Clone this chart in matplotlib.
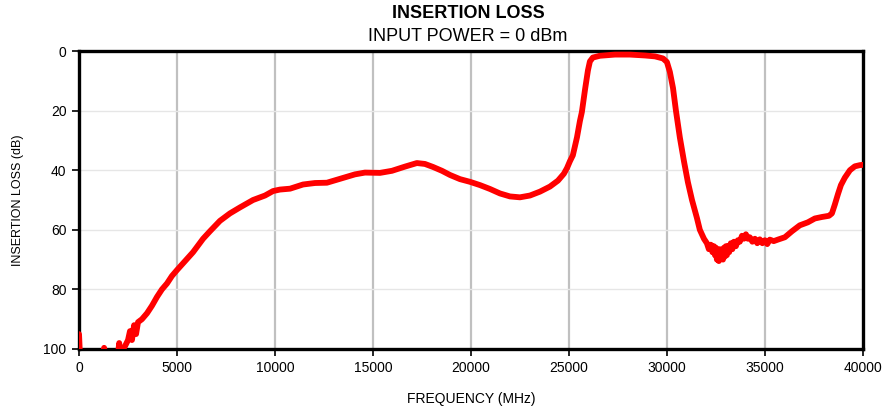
import matplotlib
matplotlib.use("Agg")
import matplotlib.pyplot as plt  # type: ignore
import numpy as np

# frequency in MHz, insertion loss in dB (values > 100 fall off the chart)
freq_mhz = [
    0, 40, 1250, 1280, 1320, 2000, 2050, 2100,
    2190, 2350, 2500, 2600, 2700, 2810, 2910, 3010, 3210, 3470, 3720,
    3980, 4230, 4490, 4740, 5000, 5410, 5820, 6330, 6680, 7190, 7700,
    8210, 8880, 9490, 9900, 10250, 10770, 11430, 12040, 12650, 13470,
    14080, 14590, 15360, 15970, 16630, 17240, 17650, 18060, 18520, 18930,
    19440, 19950, 20460, 20970, 21480, 21990, 22500, 23010, 23520, 24030,
    24440, 24740, 24900, 25050, 25200, 25410, 25560, 25660, 25820, 25970,
    26070, 26220, 26580, 27350, 28110, 28880, 29390, 29800, 30000, 30150,
    30310, 30460, 30660, 30870, 31070, 31280, 31530, 31680, 31890, 32040,
    32140, 32240, 32320, 32400, 32450, 32500, 32550, 32600, 32650, 32700,
    32750, 32810, 32860, 32910, 32960, 33010, 33060, 33110, 33180, 33260,
    33340, 33420, 33520, 33620, 33720, 33830, 33930, 34030, 34130, 34230,
    34360, 34490, 34610, 34740, 34870, 35000, 35120, 35250, 35450, 35660,
    36020, 36380, 36780, 37190, 37550, 37910, 38270, 38420, 38570, 38730,
    38880, 39080, 39340, 39590, 39850, 40000,
]
loss_db = [
    95, 101, 101, 99.6, 101, 101, 98, 101,
    100.5, 99, 97, 94, 97, 92, 95, 91, 90, 88, 85.5,
    82.5, 80, 78, 75.5, 73.5, 70.5, 67.5, 63, 60.5, 57, 54.5,
    52.5, 50, 48.5, 47, 46.5, 46.2, 44.8, 44.3, 44.2, 42.6,
    41.4, 40.8, 40.9, 40.2, 38.8, 37.6, 37.9, 38.9, 40.2, 41.6,
    43.0, 43.9, 45, 46.3, 47.8, 48.8, 49.1, 48.5, 47.2, 45.5,
    43.5, 41.2, 39.3, 37, 35, 29, 23.5, 20.5, 13, 6.5,
    3.5, 2.2, 1.6, 1.2, 1.2, 1.5, 1.8, 2.5, 3.7, 7,
    12.4, 20, 29, 37, 44, 50, 56, 60, 63, 64.5,
    66.5, 65, 67.5, 65.5, 68.5, 66, 70, 67, 70.5, 66.5,
    69.5, 67, 70, 66, 69, 65.5, 68.5, 65.5, 67.5, 64.5,
    66.5, 64, 65.5, 63.5, 64, 62, 63, 61.5, 63, 62.5,
    64, 63, 64.5, 63.2, 64.5, 63.5, 64.8, 63.3, 63.8, 63.3,
    62.5, 60.5, 58.5, 57.5, 56.2, 55.7, 55.3, 54.5, 51.5, 48,
    45, 42.5, 40, 38.7, 38.3, 38.2,
]

x_ticks = np.arange(0, 40001, 5000)
y_ticks = np.arange(0, 101, 20)


def main() -> None:
    plt.rcParams["font.family"] = ["Liberation Sans", "DejaVu Sans"]
    fig = plt.figure(figsize=(8.85, 4.09), dpi=100)
    ax = fig.add_axes([0.0893, 0.1467, 0.8857, 0.7286])

    ax.plot(freq_mhz, loss_db, color="#ff0000", lw=4.2, solid_joinstyle="round",
            solid_capstyle="round", zorder=3)

    ax.set_xlim(0, 40000)
    ax.set_ylim(100, 0)
    ax.set_xticks(x_ticks)
    ax.set_yticks(y_ticks)
    ax.tick_params(labelsize=10, length=5, width=1.2, direction="out", pad=4)

    # vertical grid darker, horizontal grid faint
    for xv in x_ticks[1:-1]:
        ax.axvline(xv, color="#c0c0c0", lw=1.6, zorder=1)
    for yv in y_ticks[1:-1]:
        ax.axhline(yv, color="#e6e6e6", lw=1.0, zorder=1)

    for sp in ax.spines.values():
        sp.set_linewidth(2.4)
        sp.set_color("black")

    ax.set_xlabel("FREQUENCY (MHz)", fontsize=10, labelpad=12)
    ax.set_ylabel("INSERTION LOSS (dB)", fontsize=9, labelpad=14)

    fig.text(0.529, 0.966, "INSERTION LOSS", ha="center", va="center",
             fontsize=13, fontweight="bold")
    fig.text(0.529, 0.91, "INPUT POWER = 0 dBm", ha="center", va="center",
             fontsize=13)

    fig.savefig("out.png", dpi=100)


if __name__ == "__main__":
    main()
